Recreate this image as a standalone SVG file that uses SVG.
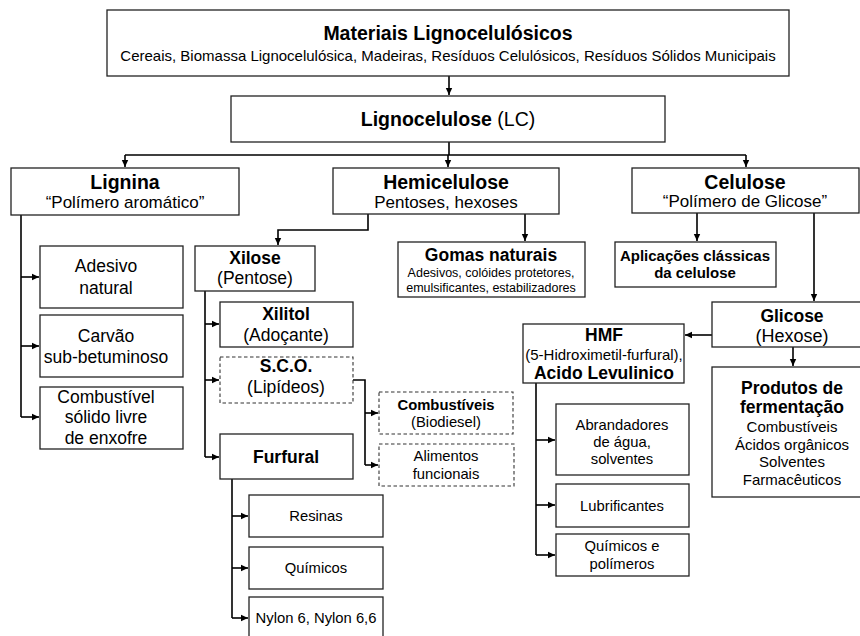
<svg xmlns="http://www.w3.org/2000/svg" width="860" height="636" viewBox="0 0 860 636">
<defs>
<marker id="ah" markerWidth="8" markerHeight="8" refX="7" refY="4" orient="auto" markerUnits="userSpaceOnUse">
<path d="M0,0.8 L7,4 L0,7.2 Z" fill="#000"/>
</marker>
<style>
.b{fill:#fff;stroke:#222;stroke-width:1.3}
.d{fill:#fff;stroke:#333;stroke-width:1.1;stroke-dasharray:3.5,2.5}
text{font-family:"Liberation Sans",Arial,sans-serif;fill:#000;text-anchor:middle}
.t{font-weight:bold;font-size:19.5px}
.s{font-size:17px}
.m{font-weight:bold;font-size:17.5px}
.n{font-size:17.5px}
.k{font-size:14.8px}
.kb{font-weight:bold;font-size:14.8px}
.c{stroke:#000;stroke-width:1.6;fill:none}
.a{marker-end:url(#ah)}
</style>
</defs>
<g id="connectors" class="c">
<path class="a" d="M449,76 V95"/>
<path d="M449,142 V155 M125,155 H746"/>
<path class="a" d="M125,155 V167"/>
<path class="a" d="M448,155 V167"/>
<path class="a" d="M746,155 V167"/>
<path d="M21,215 V417"/>
<path class="a" d="M21,277 H39"/>
<path class="a" d="M21,346 H39"/>
<path class="a" d="M21,417 H39"/>
<path class="a" d="M368,214 V230 H278 V245"/>
<path class="a" d="M525,214 V241"/>
<path class="a" d="M697,213 V241"/>
<path class="a" d="M814,213 V301"/>
<path class="a" d="M712,335 H685"/>
<path class="a" d="M793,347 V366"/>
<path d="M205,291 V457"/>
<path class="a" d="M205,324 H219"/>
<path class="a" d="M205,380 H219"/>
<path class="a" d="M205,457 H219"/>
<path d="M353,380 H365 V465"/>
<path class="a" d="M365,413 H378"/>
<path class="a" d="M365,465 H378"/>
<path d="M232,479 V618"/>
<path class="a" d="M232,516 H248"/>
<path class="a" d="M232,568 H248"/>
<path class="a" d="M232,618 H248"/>
<path d="M536,383 V555"/>
<path class="a" d="M536,440 H555"/>
<path class="a" d="M536,505 H555"/>
<path class="a" d="M536,555 H555"/>
</g>
<g id="materiais">
<rect class="b" x="107" y="10" width="682" height="66"/>
<text x="448" y="40" class="t">Materiais Lignocelulósicos</text>
<text x="448" y="61" style="font-size:15px">Cereais, Biomassa Lignocelulósica, Madeiras, Resíduos Celulósicos, Resíduos Sólidos Municipais</text>
</g>
<g id="lignocelulose">
<rect class="b" x="231" y="96" width="434" height="46"/>
<text x="448" y="126" class="t">Lignocelulose<tspan style="font-weight:normal"> (LC)</tspan></text>
</g>
<g id="lignina">
<rect class="b" x="11" y="168" width="228" height="47"/>
<text x="125" y="189" class="t">Lignina</text>
<text x="125" y="208" class="s">“Polímero aromático”</text>
</g>
<g id="hemicelulose">
<rect class="b" x="333" y="168" width="226" height="46"/>
<text x="446" y="189" class="t">Hemicelulose</text>
<text x="446" y="208" class="s">Pentoses, hexoses</text>
</g>
<g id="celulose">
<rect class="b" x="632" y="168" width="227" height="45"/>
<text x="745" y="189" class="t">Celulose</text>
<text x="745" y="207" class="s">“Polímero de Glicose”</text>
</g>
<g id="adesivo">
<rect class="b" x="40" y="246" width="143" height="62"/>
<text x="106" y="272" class="n">Adesivo</text>
<text x="106" y="294" class="n">natural</text>
</g>
<g id="carvao">
<rect class="b" x="40" y="315" width="143" height="62"/>
<text x="106" y="342" class="n">Carvão</text>
<text x="106" y="363" class="n">sub-betuminoso</text>
</g>
<g id="combustivel-solido">
<rect class="b" x="40" y="387" width="143" height="62"/>
<text x="106" y="403" class="n">Combustível</text>
<text x="106" y="423" class="n">sólido livre</text>
<text x="106" y="444" class="n">de enxofre</text>
</g>
<g id="xilose">
<rect class="b" x="195" y="246" width="120" height="45"/>
<text x="255" y="264" class="m">Xilose</text>
<text x="255" y="284" class="n">(Pentose)</text>
</g>
<g id="gomas">
<rect class="b" x="398" y="242" width="187" height="55"/>
<text x="491" y="261" class="m">Gomas naturais</text>
<text x="491" y="277" style="font-size:12.5px">Adesivos, colóides protetores,</text>
<text x="491" y="292" style="font-size:12.5px">emulsificantes, estabilizadores</text>
</g>
<g id="aplicacoes">
<rect class="b" x="615" y="242" width="161" height="45"/>
<text x="695" y="261" style="font-weight:bold;font-size:15px">Aplicações clássicas</text>
<text x="695" y="278" style="font-weight:bold;font-size:15px">da celulose</text>
</g>
<g id="glicose">
<rect class="b" x="712" y="302" width="152" height="45"/>
<text x="792" y="322" class="m">Glicose</text>
<text x="792" y="342" style="font-size:18px">(Hexose)</text>
</g>
<g id="hmf">
<rect class="b" x="523" y="324" width="161" height="59"/>
<text x="604" y="341" class="m">HMF</text>
<text x="604" y="360" style="font-size:15px">(5-Hidroximetil-furfural),</text>
<text x="604" y="379" class="m">Acido Levulinico</text>
</g>
<g id="produtos">
<rect class="b" x="712" y="367" width="152" height="130"/>
<text x="792" y="394" class="m">Produtos de</text>
<text x="792" y="413" class="m">fermentação</text>
<text x="792" y="432" style="font-size:15px">Combustíveis</text>
<text x="792" y="450" style="font-size:15px">Ácidos orgânicos</text>
<text x="792" y="467" style="font-size:15px">Solventes</text>
<text x="792" y="485" style="font-size:15px">Farmacêuticos</text>
</g>
<g id="xilitol">
<rect class="b" x="220" y="302" width="133" height="45"/>
<text x="286" y="320" class="m">Xilitol</text>
<text x="286" y="341" class="n">(Adoçante)</text>
</g>
<g id="sco">
<rect class="d" x="220" y="357" width="133" height="46"/>
<text x="286" y="372" class="m">S.C.O.</text>
<text x="286" y="393" class="n">(Lipídeos)</text>
</g>
<g id="combustiveis-biodiesel">
<rect class="d" x="379" y="392" width="134" height="42"/>
<text x="446" y="410" class="kb">Combustíveis</text>
<text x="446" y="427" class="k">(Biodiesel)</text>
</g>
<g id="alimentos">
<rect class="d" x="379" y="444" width="135" height="42"/>
<text x="446" y="461" class="k">Alimentos</text>
<text x="446" y="479" class="k">funcionais</text>
</g>
<g id="furfural">
<rect class="b" x="220" y="434" width="133" height="45"/>
<text x="286" y="463" class="m">Furfural</text>
</g>
<g id="resinas">
<rect class="b" x="249" y="495" width="134" height="42"/>
<text x="316" y="521" class="k">Resinas</text>
</g>
<g id="quimicos">
<rect class="b" x="249" y="547" width="134" height="42"/>
<text x="316" y="573" class="k">Químicos</text>
</g>
<g id="nylon">
<rect class="b" x="249" y="597" width="134" height="42"/>
<text x="316" y="623" class="k">Nylon 6, Nylon 6,6</text>
</g>
<g id="abrandadores">
<rect class="b" x="556" y="404" width="133" height="71"/>
<text x="622" y="430" class="k">Abrandadores</text>
<text x="622" y="447" class="k">de água,</text>
<text x="622" y="464" class="k">solventes</text>
</g>
<g id="lubrificantes">
<rect class="b" x="556" y="484" width="133" height="43"/>
<text x="622" y="511" class="k">Lubrificantes</text>
</g>
<g id="quimicos-polimeros">
<rect class="b" x="556" y="534" width="133" height="42"/>
<text x="622" y="551" class="k">Químicos e</text>
<text x="622" y="569" class="k">polímeros</text>
</g>
</svg>
